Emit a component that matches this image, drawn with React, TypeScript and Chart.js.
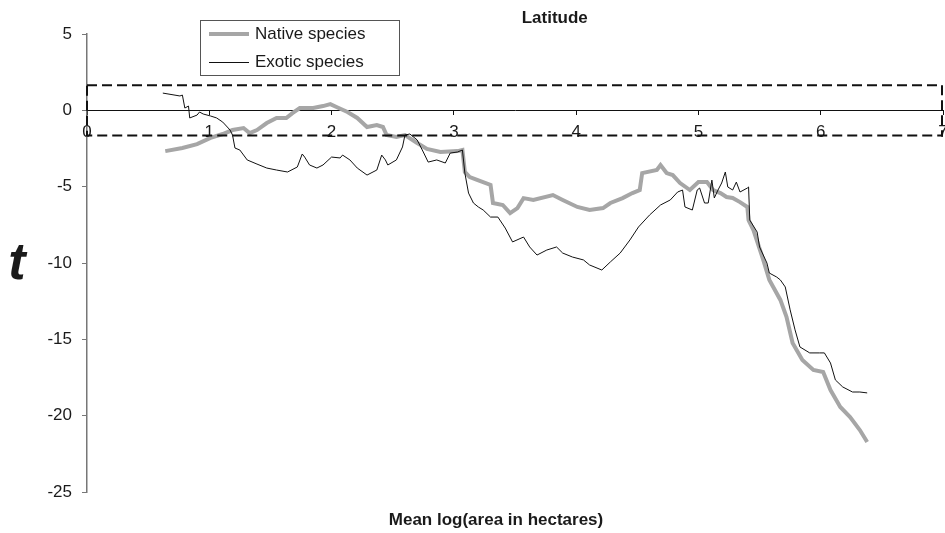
import React, { useEffect, useRef } from "react";
import { Chart, registerables } from "chart.js";

Chart.register(...registerables);

const chartTitle = "Latitude";
const xTitle = "Mean log(area in hectares)";
const yTitle = "t";
const nativeLabel = "Native species";
const exoticLabel = "Exotic species";

const xMin = 0;
const xMax = 7;
const yMin = -25;
const yMax = 5;
const bandHigh = 1.645;
const bandLow = -1.645;

const nativeX = [0.64, 0.78, 0.9, 1.01, 1.11, 1.19, 1.28, 1.33, 1.39, 1.47, 1.55, 1.63, 1.68, 1.74, 1.85, 1.93, 1.99, 2.04, 2.13, 2.21, 2.29, 2.37, 2.42, 2.45, 2.53, 2.6, 2.7, 2.78, 2.89, 3.03, 3.07, 3.09, 3.13, 3.19, 3.3, 3.32, 3.4, 3.46, 3.52, 3.57, 3.65, 3.81, 3.89, 4.01, 4.11, 4.22, 4.28, 4.38, 4.46, 4.52, 4.54, 4.66, 4.69, 4.74, 4.79, 4.85, 4.93, 5.0, 5.07, 5.12, 5.18, 5.23, 5.28, 5.34, 5.4, 5.41, 5.45, 5.53, 5.58, 5.67, 5.72, 5.77, 5.85, 5.94, 6.02, 6.08, 6.16, 6.24, 6.32, 6.38];
const nativeY = [-2.67, -2.47, -2.21, -1.81, -1.55, -1.29, -1.16, -1.49, -1.29, -0.83, -0.5, -0.5, -0.18, 0.15, 0.15, 0.28, 0.41, 0.22, -0.11, -0.5, -1.09, -0.96, -1.09, -1.62, -1.75, -1.62, -2.14, -2.53, -2.73, -2.67, -2.6, -4.04, -4.37, -4.56, -4.89, -6.07, -6.2, -6.73, -6.4, -5.75, -5.87, -5.55, -5.87, -6.33, -6.53, -6.4, -6.07, -5.75, -5.42, -5.22, -4.11, -3.91, -3.58, -4.11, -4.24, -4.76, -5.22, -4.7, -4.7, -5.22, -5.42, -5.68, -5.74, -6.01, -6.33, -7.19, -7.84, -9.8, -11.11, -12.42, -13.53, -15.24, -16.35, -17.01, -17.14, -18.32, -19.43, -20.09, -20.94, -21.72];

const exoticX = [0.62, 0.76, 0.78, 0.8, 0.83, 0.84, 0.9, 0.92, 0.95, 1.01, 1.06, 1.11, 1.17, 1.19, 1.21, 1.25, 1.31, 1.39, 1.47, 1.55, 1.64, 1.72, 1.76, 1.78, 1.82, 1.88, 1.93, 2.0, 2.07, 2.09, 2.15, 2.21, 2.29, 2.37, 2.41, 2.44, 2.46, 2.53, 2.58, 2.6, 2.64, 2.7, 2.75, 2.79, 2.86, 2.93, 2.97, 3.03, 3.07, 3.09, 3.12, 3.16, 3.2, 3.24, 3.3, 3.36, 3.42, 3.48, 3.57, 3.62, 3.68, 3.76, 3.84, 3.89, 3.97, 4.06, 4.11, 4.21, 4.28, 4.36, 4.44, 4.51, 4.6, 4.69, 4.77, 4.83, 4.87, 4.89, 4.95, 4.99, 5.01, 5.05, 5.08, 5.11, 5.13, 5.16, 5.19, 5.22, 5.24, 5.28, 5.31, 5.34, 5.4, 5.41, 5.42, 5.48, 5.5, 5.56, 5.58, 5.64, 5.67, 5.71, 5.75, 5.79, 5.83, 5.91, 5.99, 6.03, 6.08, 6.12, 6.18, 6.26, 6.32, 6.38];
const exoticY = [1.13, 0.94, 1.0, 0.15, 0.28, -0.5, -0.31, -0.11, -0.24, -0.37, -0.5, -0.77, -1.29, -1.62, -2.47, -2.6, -3.25, -3.52, -3.78, -3.91, -4.04, -3.71, -2.86, -3.06, -3.58, -3.78, -3.58, -3.06, -3.12, -2.93, -3.25, -3.78, -4.24, -3.91, -2.93, -3.25, -3.58, -3.25, -2.4, -1.62, -1.55, -1.94, -2.73, -3.39, -3.25, -3.45, -2.8, -2.73, -2.6, -4.11, -5.42, -6.07, -6.33, -6.53, -6.99, -6.99, -7.71, -8.62, -8.3, -8.95, -9.48, -9.15, -8.95, -9.35, -9.61, -9.8, -10.13, -10.46, -9.93, -9.35, -8.49, -7.64, -6.86, -6.2, -5.87, -5.35, -5.22, -6.33, -6.53, -5.22, -5.09, -6.07, -6.07, -4.57, -5.74, -5.22, -4.76, -4.04, -5.02, -5.22, -4.7, -5.35, -5.09, -5.02, -7.19, -7.97, -8.95, -10.0, -10.66, -10.92, -11.11, -11.57, -13.07, -14.38, -15.5, -15.89, -15.89, -15.89, -16.55, -17.66, -18.12, -18.45, -18.45, -18.51];

const FONT = "'Liberation Sans', Arial, Helvetica, sans-serif";
const nativeColor = "#a6a6a6";
const exoticColor = "#111111";

const zip = (xs: number[], ys: number[]) => xs.map((x, i) => ({ x, y: ys[i] }));

const overlayPlugin = {
  id: "overlay",
  afterDatasetsDraw(chart: any) {
    const { ctx, chartArea, scales } = chart;
    const xs = scales.x;
    const ys = scales.y;
    ctx.save();
    // dashed significance band
    const x0 = xs.getPixelForValue(xMin);
    const x1 = xs.getPixelForValue(xMax);
    const yTop = ys.getPixelForValue(bandHigh);
    const yBot = ys.getPixelForValue(bandLow);
    ctx.strokeStyle = "#111";
    ctx.lineWidth = 2;
    ctx.setLineDash([10, 5]);
    ctx.strokeRect(x0, yTop, x1 - x0 - 1, yBot - yTop);
    ctx.setLineDash([]);

    // title
    ctx.fillStyle = "#1a1a1a";
    ctx.font = `bold 17px ${FONT}`;
    ctx.textAlign = "center";
    ctx.textBaseline = "middle";
    ctx.fillText(chartTitle, chart.width * 0.587, 18);

    // x title
    ctx.font = `bold 17px ${FONT}`;
    ctx.fillText(xTitle, 496, chartArea.bottom + 28);

    // y title
    ctx.font = `italic bold 52px ${FONT}`;
    ctx.fillText(yTitle, 17, (chartArea.top + chartArea.bottom) / 2 + 2);

    // legend
    const lx = 200;
    const ly = 20;
    const lw = 199;
    const lh = 55;
    ctx.fillStyle = "#ffffff";
    ctx.fillRect(lx, ly, lw, lh);
    ctx.strokeStyle = "#555";
    ctx.lineWidth = 1;
    ctx.strokeRect(lx + 0.5, ly + 0.5, lw, lh);
    ctx.lineCap = "butt";
    ctx.strokeStyle = nativeColor;
    ctx.lineWidth = 4;
    ctx.beginPath();
    ctx.moveTo(lx + 9, ly + 14);
    ctx.lineTo(lx + 49, ly + 14);
    ctx.stroke();
    ctx.strokeStyle = exoticColor;
    ctx.lineWidth = 1;
    ctx.beginPath();
    ctx.moveTo(lx + 9, ly + 42.5);
    ctx.lineTo(lx + 49, ly + 42.5);
    ctx.stroke();
    ctx.fillStyle = "#1a1a1a";
    ctx.font = `17px ${FONT}`;
    ctx.textAlign = "left";
    ctx.fillText(nativeLabel, lx + 55, ly + 14);
    ctx.fillText(exoticLabel, lx + 55, ly + 42);
    ctx.restore();
  },
};

export default function App() {
  const canvasRef = useRef<HTMLCanvasElement | null>(null);

  useEffect(() => {
    const canvas = canvasRef.current;
    if (!canvas) return;
    const chart = new Chart(canvas, {
      type: "scatter",
      data: {
        datasets: [
          {
            label: nativeLabel,
            data: zip(nativeX, nativeY),
            showLine: true,
            borderColor: nativeColor,
            backgroundColor: nativeColor,
            borderWidth: 4,
            pointRadius: 0,
            tension: 0,
            order: 1,
          },
          {
            label: exoticLabel,
            data: zip(exoticX, exoticY),
            showLine: true,
            borderColor: exoticColor,
            backgroundColor: exoticColor,
            borderWidth: 1,
            pointRadius: 0,
            tension: 0,
            order: 0,
          },
        ],
      },
      options: {
        animation: false,
        responsive: false,
        maintainAspectRatio: false,
        layout: { padding: { left: 0, top: 34, right: 2, bottom: 41 } },
        plugins: {
          legend: { display: false },
          title: { display: false },
          tooltip: { enabled: false },
        },
        scales: {
          x: {
            type: "linear",
            min: xMin,
            max: xMax,
            position: { y: 0 } as any,
            grid: {
              display: true,
              drawOnChartArea: false,
              drawTicks: true,
              tickLength: 4,
              color: "#111",
            },
            border: { display: true, color: "#111", width: 1 },
            ticks: {
              stepSize: 1,
              color: "#1a1a1a",
              padding: 8,
              font: { family: FONT, size: 17 },
              maxRotation: 0,
              autoSkip: false,
            },
            afterFit: (scale: any) => {
              scale.paddingLeft = 0;
              scale.paddingRight = 0;
            },
          },
          y: {
            type: "linear",
            min: yMin,
            max: yMax,
            grid: {
              display: true,
              drawOnChartArea: false,
              drawTicks: true,
              tickLength: 5,
              color: "#777",
            },
            border: { display: true, color: "#777", width: 1.5 },
            ticks: {
              stepSize: 5,
              color: "#1a1a1a",
              padding: 10,
              font: { family: FONT, size: 17 },
            },
            afterFit: (scale: any) => {
              scale.width = 87;
            },
          },
        },
      },
      plugins: [overlayPlugin],
    });
    return () => chart.destroy();
  }, []);

  return (
    <div style={{ position: "absolute", left: 0, top: 0, width: 945, height: 533, background: "#fff" }}>
      <canvas ref={canvasRef} width={945} height={533} style={{ width: 945, height: 533, display: "block" }} />
    </div>
  );
}
